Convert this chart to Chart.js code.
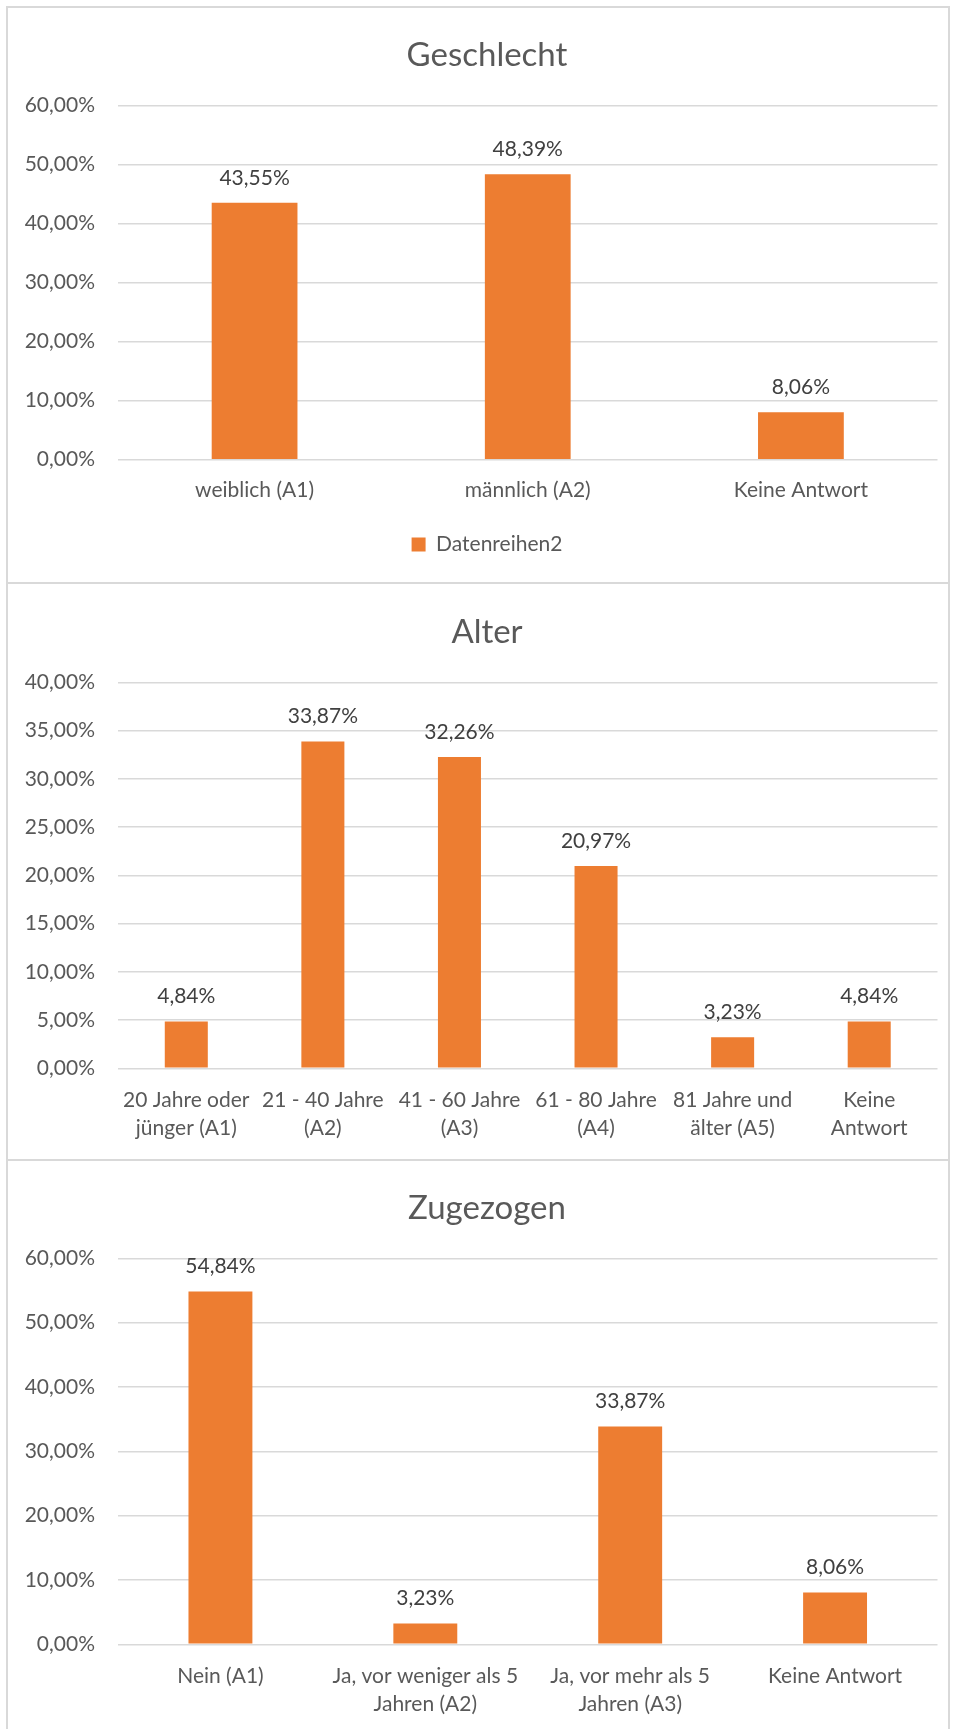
<!DOCTYPE html>
<html><head><meta charset="utf-8">
<script src="https://cdn.jsdelivr.net/npm/chart.js@4"></script>
<style>
html,body{margin:0;padding:0;background:#fff;overflow:hidden;}
body{width:954px;height:1729px;position:relative;font-family:Lato,sans-serif;}
.box{position:absolute;left:6px;width:944px;border:2px solid #d9d9d9;box-sizing:border-box;}
.cv{position:absolute;left:8px;width:958px;}
</style></head><body>
<div class="cv" style="top:8px;height:574px"><canvas id="c1"></canvas></div>
<div class="cv" style="top:585px;height:573px"><canvas id="c2"></canvas></div>
<div class="cv" style="top:1161px;height:568px"><canvas id="c3"></canvas></div>
<div class="box" style="top:6px;height:578px"></div>
<div class="box" style="top:582px;height:579px"></div>
<div class="box" style="top:1159px;height:620px"></div>
<script>
const seriesName = 'Datenreihen2';

const geschlechtTitle = 'Geschlecht';
const geschlechtCategories = ['weiblich (A1)', 'männlich (A2)', 'Keine Antwort'];
const geschlechtValues = [43.55, 48.39, 8.06];
const geschlechtTicks = [0, 10, 20, 30, 40, 50, 60];

const alterTitle = 'Alter';
const alterCategories = [['20 Jahre oder', 'jünger (A1)'], ['21 - 40 Jahre', '(A2)'], ['41 - 60 Jahre', '(A3)'], ['61 - 80 Jahre', '(A4)'], ['81 Jahre und', 'älter (A5)'], ['Keine', 'Antwort']];
const alterValues = [4.84, 33.87, 32.26, 20.97, 3.23, 4.84];
const alterTicks = [0, 5, 10, 15, 20, 25, 30, 35, 40];

const zugezogenTitle = 'Zugezogen';
const zugezogenCategories = ['Nein (A1)', ['Ja, vor weniger als 5', 'Jahren (A2)'], ['Ja, vor mehr als 5', 'Jahren (A3)'], 'Keine Antwort'];
const zugezogenValues = [54.84, 3.23, 33.87, 8.06];
const zugezogenTicks = [0, 10, 20, 30, 40, 50, 60];

const fmt = v => Number(v).toFixed(2).replace('.', ',') + '%';
const FONT = 'Lato';

const barLabels = {
  id: 'barLabels',
  afterDatasetsDraw(chart) {
    const ctx = chart.ctx;
    const ds = chart.data.datasets[0];
    const meta = chart.getDatasetMeta(0);
    ctx.save();
    ctx.font = '21px ' + FONT;
    ctx.fillStyle = '#404040';
    ctx.textAlign = 'center';
    ctx.textBaseline = 'middle';
    meta.data.forEach((bar, i) => ctx.fillText(fmt(ds.data[i]), bar.x, bar.y - 25));
    ctx.restore();
  }
};

function makeChart(id, title, cats, vals, ticks, opt) {
  return new Chart(document.getElementById(id), {
    type: 'bar',
    data: {
      labels: cats,
      datasets: [{
        label: seriesName,
        data: vals,
        backgroundColor: '#ED7D31',
        borderWidth: 0,
        barPercentage: opt.barPct,
        categoryPercentage: 1
      }]
    },
    plugins: [barLabels],
    options: {
      responsive: true,
      maintainAspectRatio: false,
      animation: false,
      layout: { padding: { left: 0, right: 0, top: 0, bottom: opt.padBottom } },
      plugins: {
        title: {
          display: true, text: title, color: '#595959',
          font: { family: FONT, size: 33, weight: 'normal', lineHeight: 1.2 },
          padding: { top: 28, bottom: opt.titleBottom }
        },
        legend: {
          display: opt.legend, position: 'bottom',
          labels: { color: '#595959', font: { family: FONT, size: 21 }, boxWidth: 14, boxHeight: 14, padding: 10 }
        },
        tooltip: { enabled: false }
      },
      scales: {
        x: {
          grid: { display: false, drawTicks: false },
          border: { display: false },
          ticks: {
            color: '#595959', font: { family: FONT, size: 21, lineHeight: 1.3333 },
            padding: opt.xPad, maxRotation: 0, minRotation: 0, autoSkip: false
          },
          afterFit: s => { s.height = opt.xHeight; }
        },
        y: {
          min: ticks[0], max: ticks[ticks.length - 1],
          grid: { color: '#d9d9d9', lineWidth: 1.5, drawTicks: false },
          border: { display: false },
          ticks: {
            stepSize: ticks[1] - ticks[0], color: '#595959',
            font: { family: FONT, size: 21 }, padding: 23,
            callback: v => fmt(v)
          },
          afterFit: s => { s.width = 110; }
        },
        spacer: {
          type: 'linear', position: 'right', display: true,
          grid: { display: false, drawTicks: false },
          border: { display: false },
          ticks: { display: false },
          afterFit: s => { s.width = 28.5; }
        }
      }
    }
  });
}

function draw() {
  makeChart('c1', geschlechtTitle, geschlechtCategories, geschlechtValues, geschlechtTicks,
    { barPct: 0.314, legend: true, padBottom: 17, titleBottom: 30.1, xPad: 17, xHeight: 64.3 });
  makeChart('c2', alterTitle, alterCategories, alterValues, alterTicks,
    { barPct: 0.315, legend: false, padBottom: 0, titleBottom: 29.7, xPad: 17.7, xHeight: 89.7 });
  makeChart('c3', zugezogenTitle, zugezogenCategories, zugezogenValues, zugezogenTicks,
    { barPct: 0.312, legend: false, padBottom: 0, titleBottom: 29.8, xPad: 18.4, xHeight: 84.7 });
}
if (document.fonts && document.fonts.load) {
  Promise.all([document.fonts.load('21px Lato'), document.fonts.load('33px Lato')]).then(draw, draw);
} else { draw(); }
</script>
</body></html>
